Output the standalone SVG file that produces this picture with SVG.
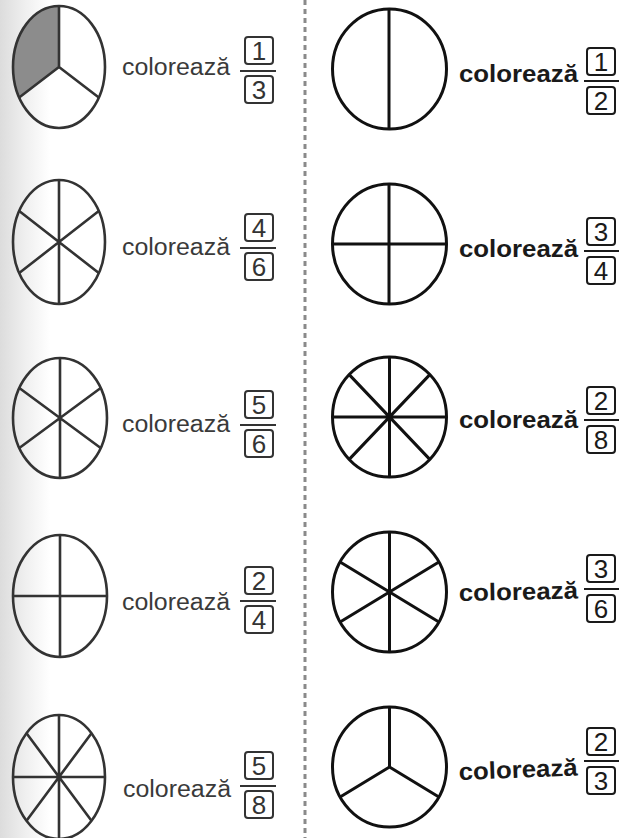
<svg xmlns="http://www.w3.org/2000/svg" width="632" height="838" viewBox="0 0 632 838">
<defs>
<linearGradient id="edge" x1="0" y1="0" x2="1" y2="0">
<stop offset="0" stop-color="#dcdcdc"/>
<stop offset="0.5" stop-color="#efefef"/>
<stop offset="1" stop-color="#ffffff"/>
</linearGradient>
<style>
.pl{fill:none;stroke:#333;stroke-width:2.6}
.pr{fill:none;stroke:#111;stroke-width:3}
.tl{font-family:"Liberation Sans",Arial,sans-serif;font-size:23px;fill:#3a3a3a}
.tr{font-family:"Liberation Sans",Arial,sans-serif;font-size:24px;font-weight:bold;fill:#1a1a1a}
.bx{fill:#fff;stroke:#333;stroke-width:2}
.bxr{fill:#fff;stroke:#1a1a1a;stroke-width:2}
.d{font-family:"Liberation Sans",Arial,sans-serif;font-size:26px;fill:#333;text-anchor:middle}
.dr{font-family:"Liberation Sans",Arial,sans-serif;font-size:26px;fill:#1a1a1a;text-anchor:middle}
.fl{stroke:#333;stroke-width:2}
.flr{stroke:#1a1a1a;stroke-width:2.2}
</style>
</defs>
<rect width="632" height="838" fill="#fff"/>
<rect width="50" height="838" fill="url(#edge)"/>

<g id="divider">
<line x1="305" y1="0" x2="305" y2="838" stroke="#8a8a8a" stroke-width="3" stroke-dasharray="5 4"/>
</g>

<!-- LEFT COLUMN -->
<g id="L1">
<path d="M59,67 L59,6 A46,61 0 0 0 19.2,97.5 Z" fill="#8c8c8c"/>
<ellipse class="pl" cx="59" cy="67" rx="46" ry="61"/>
<path class="pl" d="M59,67 L59,6 M59,67 L19.2,97.5 M59,67 L98.8,97.5"/>
<text class="tl" x="122" y="75" textLength="108" lengthAdjust="spacingAndGlyphs">colorează</text>
<rect class="bx" x="245" y="37" width="28" height="27" rx="3"/>
<text class="d" x="259" y="60">1</text>
<line class="fl" x1="240" y1="71" x2="276" y2="71"/>
<rect class="bx" x="245" y="76" width="28" height="27" rx="3"/>
<text class="d" x="259" y="99">3</text>
</g>

<g id="L2">
<ellipse class="pl" cx="59" cy="242" rx="46" ry="62"/>
<path class="pl" d="M59,180 L59,304 M19.2,211 L98.8,273 M19.2,273 L98.8,211"/>
<text class="tl" x="122" y="255" textLength="108" lengthAdjust="spacingAndGlyphs">colorează</text>
<rect class="bx" x="245" y="214" width="28" height="27" rx="3"/>
<text class="d" x="259" y="237">4</text>
<line class="fl" x1="240" y1="248" x2="276" y2="248"/>
<rect class="bx" x="245" y="253" width="28" height="27" rx="3"/>
<text class="d" x="259" y="276">6</text>
</g>

<g id="L3">
<ellipse class="pl" cx="60" cy="418" rx="47" ry="60"/>
<path class="pl" d="M60,358 L60,478 M19.3,388 L100.7,448 M19.3,448 L100.7,388"/>
<text class="tl" x="122" y="432" textLength="108" lengthAdjust="spacingAndGlyphs">colorează</text>
<rect class="bx" x="245" y="391" width="28" height="27" rx="3"/>
<text class="d" x="259" y="414">5</text>
<line class="fl" x1="240" y1="425" x2="276" y2="425"/>
<rect class="bx" x="245" y="430" width="28" height="27" rx="3"/>
<text class="d" x="259" y="453">6</text>
</g>

<g id="L4">
<ellipse class="pl" cx="60" cy="596" rx="47" ry="61"/>
<path class="pl" d="M60,535 L60,657 M13,596 L107,596"/>
<text class="tl" x="122" y="610" textLength="108" lengthAdjust="spacingAndGlyphs">colorează</text>
<rect class="bx" x="245" y="567" width="28" height="27" rx="3"/>
<text class="d" x="259" y="590">2</text>
<line class="fl" x1="240" y1="601" x2="276" y2="601"/>
<rect class="bx" x="245" y="606" width="28" height="27" rx="3"/>
<text class="d" x="259" y="629">4</text>
</g>

<g id="L5">
<ellipse class="pl" cx="59" cy="777" rx="46" ry="62"/>
<path class="pl" d="M59,715 L59,839 M13,777 L105,777 M26.5,733.2 L91.5,820.8 M26.5,820.8 L91.5,733.2"/>
<text class="tl" x="123" y="797" textLength="108" lengthAdjust="spacingAndGlyphs">colorează</text>
<rect class="bx" x="245" y="752" width="28" height="27" rx="3"/>
<text class="d" x="259" y="775">5</text>
<line class="fl" x1="240" y1="786" x2="276" y2="786"/>
<rect class="bx" x="245" y="791" width="28" height="27" rx="3"/>
<text class="d" x="259" y="814">8</text>
</g>

<!-- RIGHT COLUMN -->
<g id="R1">
<ellipse class="pr" cx="389.5" cy="69" rx="57" ry="60"/>
<path class="pr" d="M389,9 L389,129"/>
<text class="tr" x="459" y="82" textLength="119" lengthAdjust="spacingAndGlyphs">colorează</text>
<rect class="bxr" x="587" y="48" width="28" height="27" rx="3"/>
<text class="dr" x="601" y="71">1</text>
<line class="flr" x1="584" y1="81" x2="619" y2="81"/>
<rect class="bxr" x="587" y="87" width="28" height="27" rx="3"/>
<text class="dr" x="601" y="110">2</text>
</g>

<g id="R2">
<ellipse class="pr" cx="389.5" cy="244" rx="57" ry="60"/>
<path class="pr" d="M389,184 L389,304 M332.5,244 L446.5,244"/>
<text class="tr" x="459" y="257" textLength="119" lengthAdjust="spacingAndGlyphs">colorează</text>
<rect class="bxr" x="587" y="218" width="28" height="27" rx="3"/>
<text class="dr" x="601" y="241">3</text>
<line class="flr" x1="584" y1="251" x2="619" y2="251"/>
<rect class="bxr" x="587" y="257" width="28" height="27" rx="3"/>
<text class="dr" x="601" y="280">4</text>
</g>

<g id="R3">
<ellipse class="pr" cx="389.5" cy="417" rx="57" ry="60"/>
<path class="pr" d="M389.5,357 L389.5,477 M332.5,417 L446.5,417 M349.2,374.6 L429.8,459.4 M349.2,459.4 L429.8,374.6"/>
<text class="tr" x="459" y="428" textLength="119" lengthAdjust="spacingAndGlyphs">colorează</text>
<rect class="bxr" x="587" y="387" width="28" height="27" rx="3"/>
<text class="dr" x="601" y="410">2</text>
<line class="flr" x1="584" y1="420" x2="619" y2="420"/>
<rect class="bxr" x="587" y="426" width="28" height="27" rx="3"/>
<text class="dr" x="601" y="449">8</text>
</g>

<g id="R4">
<ellipse class="pr" cx="389.5" cy="592" rx="57" ry="60"/>
<path class="pr" d="M389.5,532 L389.5,652 M340.1,562 L438.9,622 M340.1,622 L438.9,562"/>
<text class="tr" x="459" y="601" textLength="119" lengthAdjust="spacingAndGlyphs" transform="rotate(-1.2 459 601)">colorează</text>
<rect class="bxr" x="587" y="555" width="28" height="27" rx="3"/>
<text class="dr" x="601" y="578">3</text>
<line class="flr" x1="584" y1="589" x2="619" y2="589"/>
<rect class="bxr" x="587" y="595" width="28" height="27" rx="3"/>
<text class="dr" x="601" y="618">6</text>
</g>

<g id="R5">
<ellipse class="pr" cx="389.5" cy="767" rx="57" ry="60"/>
<path class="pr" d="M389.5,767 L389.5,707 M389.5,767 L340.1,797 M389.5,767 L438.9,797"/>
<text class="tr" x="459" y="780" textLength="119" lengthAdjust="spacingAndGlyphs" transform="rotate(-2.2 459 780)">colorează</text>
<rect class="bxr" x="587" y="728" width="28" height="27" rx="3"/>
<text class="dr" x="601" y="751">2</text>
<line class="flr" x1="584" y1="761" x2="619" y2="761"/>
<rect class="bxr" x="587" y="767" width="28" height="27" rx="3"/>
<text class="dr" x="601" y="790">3</text>
</g>
</svg>
